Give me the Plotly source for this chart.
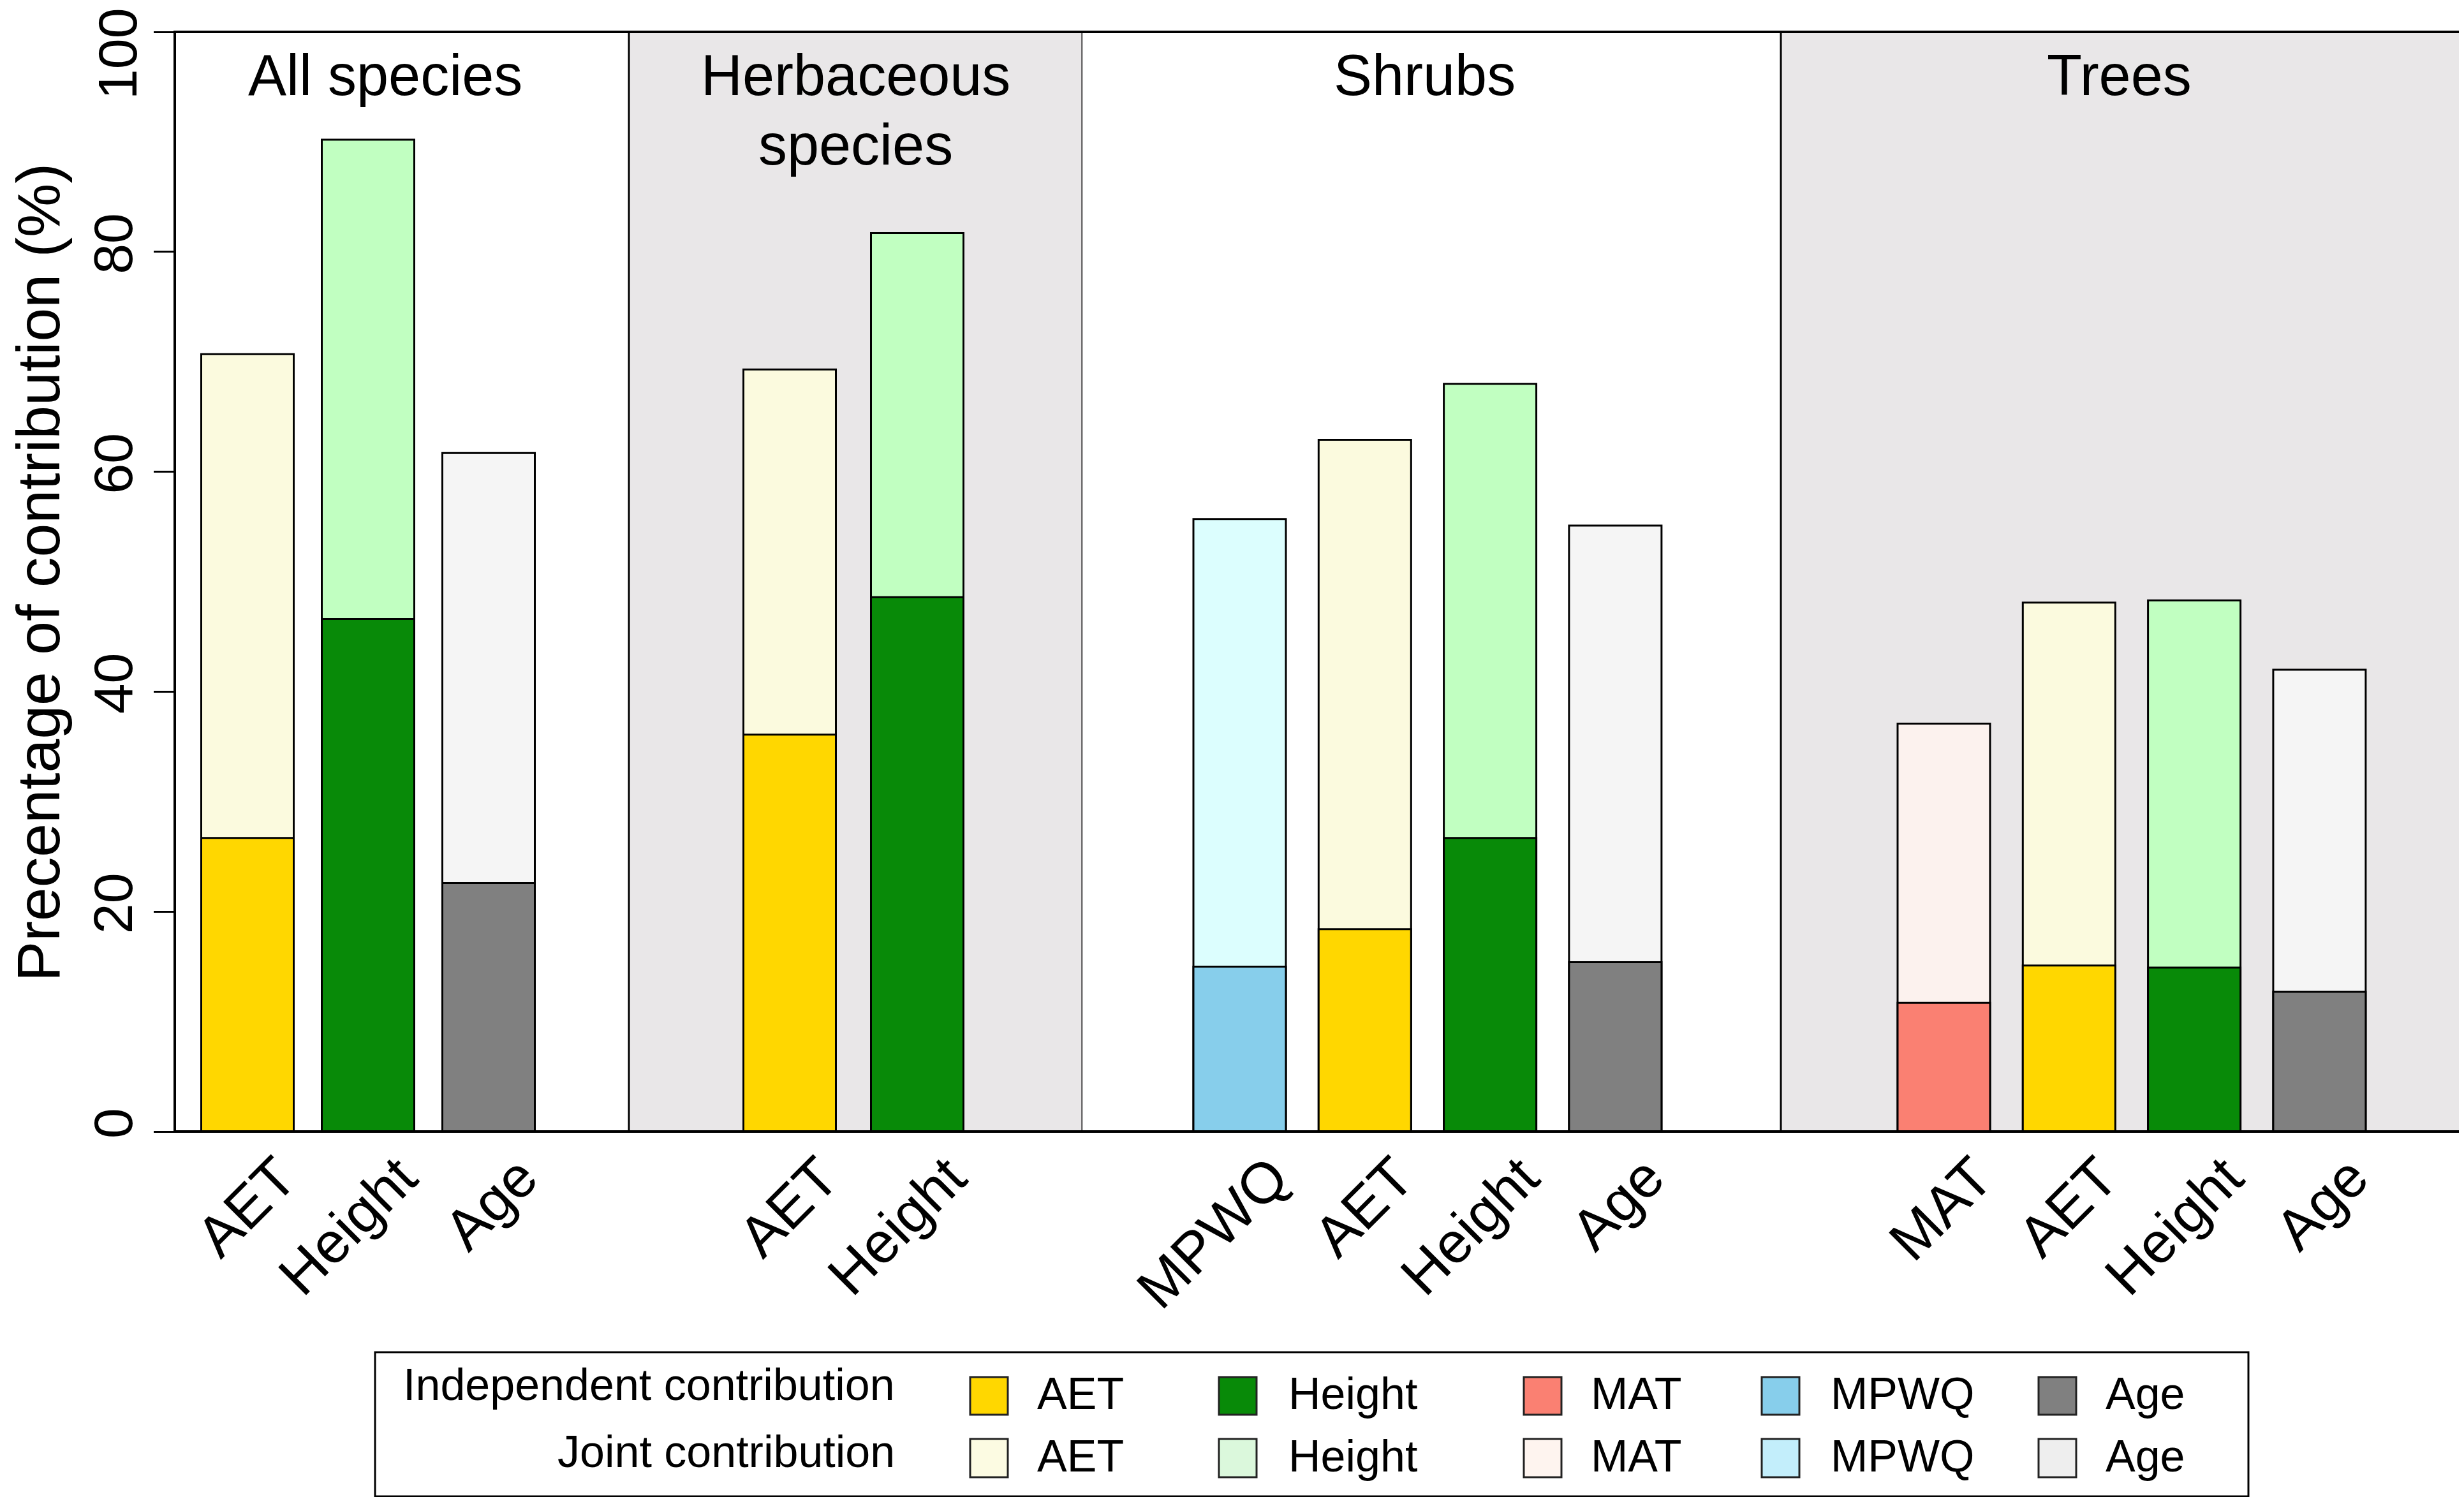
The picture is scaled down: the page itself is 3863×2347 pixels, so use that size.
import plotly.graph_objects as go

# ---------------- data ----------------
groups = ["All species", "Herbaceous", "Shrubs", "Trees"]
group_title_lines = [["All species"], ["Herbaceous", "species"], ["Shrubs"], ["Trees"]]
group_vars = [
    ["AET", "Height", "Age"],
    ["AET", "Height"],
    ["MPWQ", "AET", "Height", "Age"],
    ["MAT", "AET", "Height", "Age"],
]
independent = [
    [26.7, 46.6, 22.6],
    [36.1, 48.6],
    [15.0, 18.4, 26.7, 15.4],
    [11.7, 15.1, 14.9, 12.7],
]
total = [
    [70.7, 90.2, 61.7],
    [69.3, 81.7],
    [55.7, 62.9, 68.0, 55.1],
    [37.1, 48.1, 48.3, 42.0],
]
legend_vars = ["AET", "Height", "MAT", "MPWQ", "Age"]
legend_rows = ["Independent contribution", "Joint contribution"]
y_ticks = [0, 20, 40, 60, 80, 100]
y_tick_text = ["0", "20", "40", "60", "80", "100"]

# ---------------- styles ----------------
indep_colors = {"AET": "#FFD700", "Height": "#088A08", "MAT": "#FA8072",
                "MPWQ": "#87CEEB", "Age": "#808080"}
joint_colors = {"AET": "#FBFADE", "Height": "#C1FFC1", "MAT": "#FCF2EE",
                "MPWQ": "#DCFEFE", "Age": "#F5F5F5"}
legend_joint_colors = {"AET": "#FCFBE2", "Height": "#DBF8DC", "MAT": "#FEF4EF",
                       "MPWQ": "#C3EEFB", "Age": "#EEEEEE"}
panel_fill = ["white", "#E9E7E8", "white", "#E9E7E8"]
FONT = "Liberation Sans, Arial, Helvetica, sans-serif"

W, H = 3863, 2347
L, R, T, B = 266, 3855, 42, 1766

panel_edges = [266, 978, 1689, 2784, 3855]
first_center = [380, 1230, 1935.5, 3039.5]
step_px = [189, 200, 196.3, 196.3]
bar_w_px = 145
title_x_px = [596, 1333, 2225, 3314]


def px2x(px):
    return (px - L) / (R - L)


def py2y(py):
    return (B - py) / (B - T)


fig = go.Figure()
layout_axes = {}
shapes = []
annotations = []

for i, (vars_, ind, tot) in enumerate(zip(group_vars, independent, total)):
    xname = "x" if i == 0 else f"x{i+1}"
    axkey = "xaxis" if i == 0 else f"xaxis{i+1}"
    idx = list(range(len(vars_)))
    s = step_px[i]
    c = first_center[i]
    width = bar_w_px / s
    fig.add_trace(go.Bar(
        x=idx, y=tot, width=width, xaxis=xname, yaxis="y",
        marker=dict(color=[joint_colors[v] for v in vars_],
                    line=dict(color="black", width=3)),
        showlegend=False, hoverinfo="skip"))
    fig.add_trace(go.Bar(
        x=idx, y=ind, width=width, xaxis=xname, yaxis="y",
        marker=dict(color=[indep_colors[v] for v in vars_],
                    line=dict(color="black", width=3)),
        showlegend=False, hoverinfo="skip"))
    layout_axes[axkey] = dict(
        domain=[px2x(panel_edges[i]), px2x(panel_edges[i + 1])],
        anchor="y",
        range=[(panel_edges[i] - c) / s, (panel_edges[i + 1] - c) / s],
        tickmode="array", tickvals=idx, ticktext=vars_,
        tickangle=-45, ticks="", showgrid=False, zeroline=False,
        showline=False, fixedrange=True, ticklabelshift=50, automargin=False,
        tickfont=dict(family=FONT, size=90, color="black"),
    )
    # panel background
    dom_ref = f"{xname} domain"
    shapes.append(dict(type="rect", xref=dom_ref, yref="paper",
                       x0=0, x1=1, y0=0, y1=1,
                       fillcolor=panel_fill[i],
                       line=dict(color="black", width=3 if panel_fill[i] != "white" else 0),
                       layer="below"))
    # panel title
    for k, line in enumerate(group_title_lines[i]):
        annotations.append(dict(
            text=line, x=px2x(title_x_px[i]), y=py2y(110 + 109 * k),
            xref="paper", yref="paper", xanchor="center", yanchor="middle",
            showarrow=False, font=dict(family=FONT, size=90, color="black")))

# frame
shapes.append(dict(type="rect", xref="paper", yref="paper", x0=0, x1=1, y0=0, y1=1,
                   line=dict(color="black", width=4), layer="above"))

# y title
annotations.append(dict(
    text="Precentage of contribution (%)", x=px2x(52), y=py2y(890),
    xref="paper", yref="paper", xanchor="center", yanchor="middle",
    textangle=-90, showarrow=False, font=dict(family=FONT, size=95, color="black")))

# top tick label: in the reference it is nudged down to stay inside the figure
annotations.append(dict(
    text=y_tick_text[-1], x=px2x(176), y=py2y(76),
    xref="paper", yref="paper", xanchor="center", yanchor="middle",
    textangle=-90, showarrow=False, font=dict(family=FONT, size=86, color="black")))
axis_tick_text = y_tick_text[:-1] + [""]

# legend
shapes.append(dict(type="rect", xref="paper", yref="paper",
                   x0=px2x(580), x1=px2x(3517), y0=py2y(2112), y1=py2y(2338),
                   line=dict(color="black", width=3), fillcolor="white"))
row_label_y = [2163, 2268]
row_sq_y = [(2151, 2210), (2248, 2308)]
row_text_y = [2177, 2275]
sq_left = [1513, 1903, 2381, 2754, 3188]
txt_left = [1616, 2010, 2484, 2860, 3291]
for r, lab in enumerate(legend_rows):
    annotations.append(dict(
        text=lab, x=px2x(1397), y=py2y(row_label_y[r]), xref="paper", yref="paper",
        xanchor="right", yanchor="middle", showarrow=False,
        font=dict(family=FONT, size=70, color="black")))
    cmap = indep_colors if r == 0 else legend_joint_colors
    for j, v in enumerate(legend_vars):
        shapes.append(dict(type="rect", xref="paper", yref="paper",
                           x0=px2x(sq_left[j]), x1=px2x(sq_left[j] + 59),
                           y0=py2y(row_sq_y[r][1]), y1=py2y(row_sq_y[r][0]),
                           fillcolor=cmap[v], line=dict(color="#222222", width=3)))
        annotations.append(dict(
            text=v, x=px2x(txt_left[j]), y=py2y(row_text_y[r]), xref="paper", yref="paper",
            xanchor="left", yanchor="middle", showarrow=False,
            font=dict(family=FONT, size=70, color="black")))

fig.update_layout(
    width=W, height=H, autosize=False,
    margin=dict(l=L, r=W - R, t=T, b=H - B, pad=0, autoexpand=False),
    paper_bgcolor="white", plot_bgcolor="white",
    barmode="overlay", showlegend=False,
    yaxis=dict(range=[0, 100.0001], tickmode="array", tickvals=y_ticks,
               ticktext=axis_tick_text,
               ticks="outside", ticklen=32, tickwidth=3, tickcolor="black",
               tickangle=-90, showgrid=False, zeroline=False, showline=False,
               fixedrange=True, automargin=False,
               tickfont=dict(family=FONT, size=86, color="black")),
    shapes=shapes, annotations=annotations,
    **layout_axes,
)

fig.write_html("out.html")
